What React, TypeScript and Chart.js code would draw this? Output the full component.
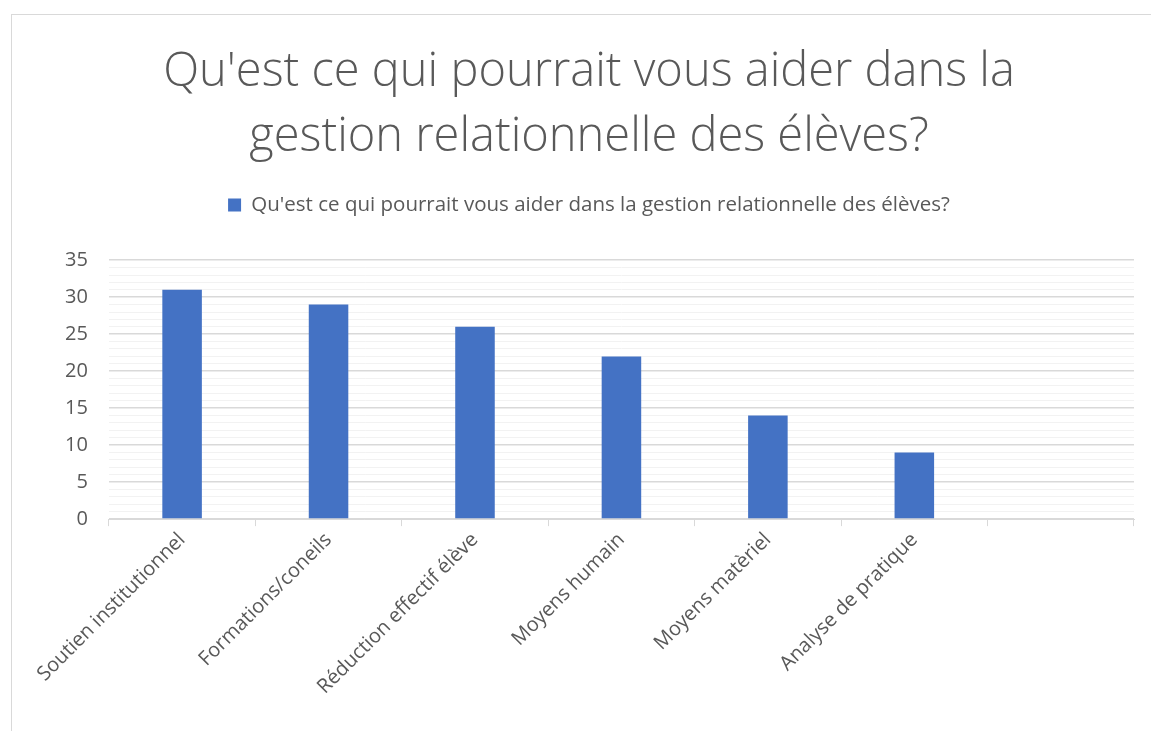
import React, { useEffect, useRef } from "react";
import { Chart, registerables } from "chart.js";

Chart.register(...registerables);

const chartTitle = ["Qu'est ce qui pourrait vous aider dans la", "gestion relationnelle des élèves?"];
const seriesName = "Qu'est ce qui pourrait vous aider dans la gestion relationnelle des élèves?";
const categories = [
  "Soutien institutionnel",
  "Formations/coneils",
  "Réduction effectif élève",
  "Moyens humain",
  "Moyens matèriel",
  "Analyse de pratique",
  "",
];
const values: (number | null)[] = [31, 29, 26, 22, 14, 9, null];
const yMin = 0;
const yMax = 35;
const yMinorStep = 1;
const yMajorStep = 5;

const framePlugin = {
  id: "frame",
  beforeDraw(chart: any) {
    const ctx = chart.ctx;
    ctx.save();
    ctx.fillStyle = "#ffffff";
    ctx.fillRect(0, 0, chart.width, chart.height);
    ctx.strokeStyle = "#d9d9d9";
    ctx.lineWidth = 1;
    ctx.strokeRect(11.5, 14.5, 3000, 3000);
    ctx.restore();
  },
};

const legendGapPlugin = {
  id: "legendGap",
  beforeInit(chart: any) {
    const legend = chart.legend;
    if (!legend) return;
    const origFit = legend.fit;
    legend.fit = function () {
      origFit.call(this);
      this.height += 35;
    };
  },
};

export default function App() {
  const ref = useRef<HTMLCanvasElement>(null);
  useEffect(() => {
    document.body.style.margin = "0";
    const chart = new Chart(ref.current!, {
      type: "bar",
      data: {
        labels: categories,
        datasets: [
          {
            label: seriesName,
            data: values,
            backgroundColor: "#4472c4",
            borderWidth: 0,
            barPercentage: 0.54,
            categoryPercentage: 0.5,
          },
        ],
      },
      options: {
        animation: false,
        responsive: false,
        devicePixelRatio: 1,
        layout: { padding: { left: 44, right: 17, top: 40, bottom: 30 } },
        plugins: {
          title: {
            display: true,
            text: chartTitle,
            color: "#595959",
            font: { family: "Open Sans", size: 47, weight: "300" as any, lineHeight: 1.38 },
            padding: { top: 0, bottom: 0 },
          },
          legend: {
            display: true,
            position: "top",
            labels: {
              color: "#595959",
              font: { family: "Open Sans", size: 20.5 },
              boxWidth: 13,
              boxHeight: 13,
              padding: 25,
            },
          },
          tooltip: { enabled: false },
        },
        scales: {
          x: {
            offset: true,
            grid: {
              offset: true,
              drawOnChartArea: false,
              drawTicks: true,
              tickLength: 7,
              color: "#d9d9d9",
            },
            border: { display: true, color: "#d9d9d9" },
            ticks: {
              color: "#595959",
              font: { family: "Open Sans", size: 20 },
              minRotation: 45,
              maxRotation: 45,
              autoSkip: false,
              padding: 2,
            },
          },
          y: {
            min: yMin,
            max: yMax,
            border: { display: false },
            grid: {
              drawTicks: false,
              color: (c: any) =>
                c.tick && c.tick.value % yMajorStep === 0 ? "#d9d9d9" : "#f2f2f2",
              lineWidth: (c: any) => (c.tick && c.tick.value % yMajorStep === 0 ? 1.5 : 1),
            },
            ticks: {
              stepSize: yMinorStep,
              autoSkip: false,
              color: "#595959",
              font: { family: "Open Sans", size: 20 },
              padding: 21,
              callback: (v: any) => (Number(v) % yMajorStep === 0 ? String(v) : ""),
            },
          },
        },
      },
      plugins: [framePlugin, legendGapPlugin],
    });
    return () => chart.destroy();
  }, []);
  return <canvas ref={ref} width={1151} height={731} style={{ display: "block" }} />;
}
